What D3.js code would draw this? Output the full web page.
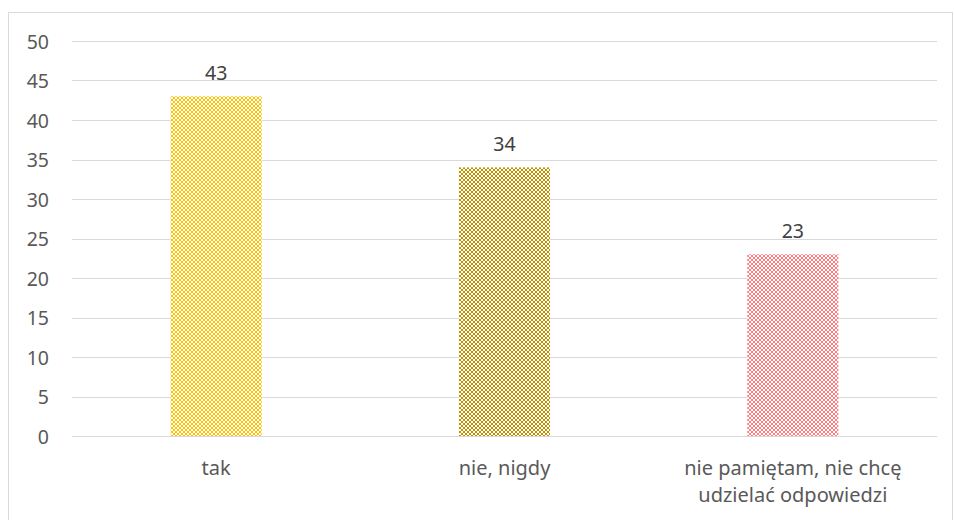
<!DOCTYPE html>
<html>
<head>
<meta charset="utf-8">
<script src="https://cdn.jsdelivr.net/npm/d3@7"></script>
<style>
  html, body { margin: 0; padding: 0; background: #fff; }
  svg { display: block; }
</style>
</head>
<body>
<svg id="chart" width="954" height="520"></svg>
<script>
const categories = ["tak", "nie, nigdy", "nie pamiętam, nie chcę\nudzielać odpowiedzi"];
const values = [43, 34, 23];
const barColors = ["#FFC000", "#BF9000", "#FF7C80"];
const yTicks = [0, 5, 10, 15, 20, 25, 30, 35, 40, 45, 50];

const svg = d3.select("#chart");
const font = "'Noto Sans', 'Open Sans', sans-serif";
const fs = 19.5;

// outer chart border
svg.append("rect")
  .attr("x", 8.5).attr("y", 12.5)
  .attr("width", 944).attr("height", 540)
  .attr("fill", "#fff").attr("stroke", "#D9D9D9").attr("stroke-width", 1);

const x = d3.scaleBand().domain(categories).range([72, 937]).padding(0);
const y = d3.scaleLinear().domain([0, 50]).range([436, 41]);

// patterns
const defs = svg.append("defs");
barColors.forEach((c, i) => {
  const p = defs.append("pattern")
    .attr("id", "pat" + i)
    .attr("patternUnits", "userSpaceOnUse")
    .attr("width", 4).attr("height", 4);
  p.append("rect").attr("width", 4).attr("height", 4).attr("fill", "#fff");
  const cells = [[0,0],[3,0],[1,1],[2,1],[1,2],[2,2],[0,3],[3,3]];
  cells.forEach(([cx, cy]) => {
    p.append("rect").attr("x", cx).attr("y", cy).attr("width", 1).attr("height", 1).attr("fill", c);
  });
});

// gridlines
svg.append("g")
  .selectAll("line")
  .data(yTicks)
  .join("line")
  .attr("x1", 72).attr("x2", 937)
  .attr("y1", d => Math.round(y(d)) + 0.5)
  .attr("y2", d => Math.round(y(d)) + 0.5)
  .attr("stroke", "#D9D9D9").attr("stroke-width", 1);

// y axis labels
const yAxis = d3.axisLeft(y).tickValues(yTicks).tickSize(0).tickPadding(0);
const gy = svg.append("g").attr("transform", "translate(49,0)").call(yAxis);
gy.select(".domain").remove();
gy.selectAll("text")
  .attr("font-family", font).attr("font-size", fs)
  .attr("fill", "#595959").attr("dy", "0.36em");

// bars
const bw = x.bandwidth() * 0.316;
svg.append("g")
  .selectAll("rect")
  .data(categories)
  .join("rect")
  .attr("x", d => x(d) + x.bandwidth() / 2 - bw / 2)
  .attr("y", (d, i) => y(values[i]))
  .attr("width", bw)
  .attr("height", (d, i) => y(0) - y(values[i]))
  .attr("fill", (d, i) => `url(#pat${i})`);

// value labels
svg.append("g")
  .selectAll("text")
  .data(categories)
  .join("text")
  .attr("x", d => x(d) + x.bandwidth() / 2)
  .attr("y", (d, i) => y(values[i]) - 16)
  .attr("text-anchor", "middle")
  .attr("font-family", font).attr("font-size", fs)
  .attr("fill", "#404040")
  .text((d, i) => values[i]);

// category labels
const gx = svg.append("g");
categories.forEach(c => {
  const lines = c.split("\n");
  const t = gx.append("text")
    .attr("text-anchor", "middle")
    .attr("font-family", font).attr("font-size", 20)
    .attr("fill", "#595959");
  lines.forEach((l, j) => {
    t.append("tspan")
      .attr("x", x(c) + x.bandwidth() / 2)
      .attr("y", 475 + j * 27)
      .text(l);
  });
});
</script>
</body>
</html>
